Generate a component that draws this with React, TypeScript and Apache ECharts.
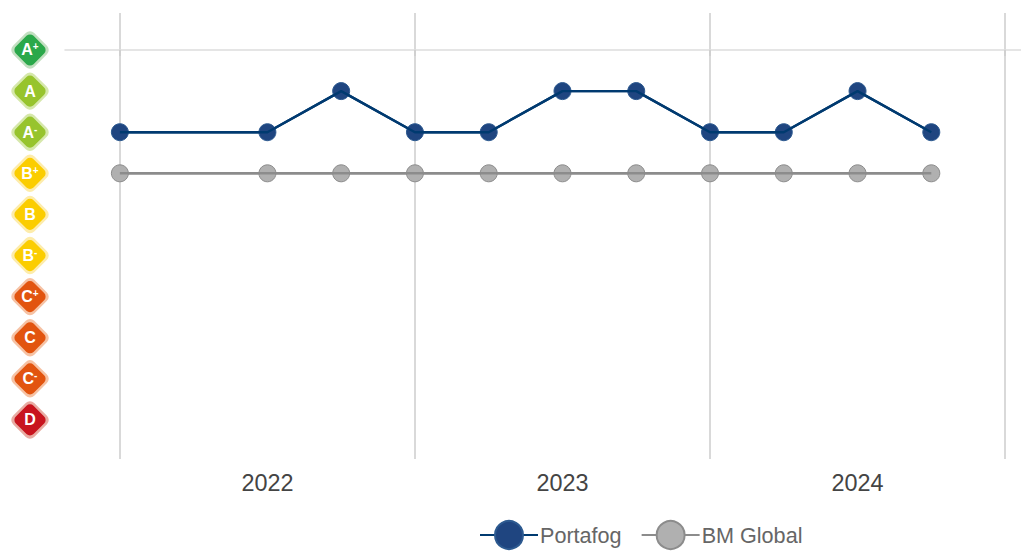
import React, { useEffect, useRef } from "react";
import * as echarts from "echarts";

const ratings = ["A+", "A", "A-", "B+", "B", "B-", "C+", "C", "C-", "D"];
const badgeFill = ["#2aa84a", "#97c42d", "#97c42d", "#fbcd00", "#fbcd00", "#fbcd00", "#e2540f", "#e2540f", "#e2540f", "#c8141e"];
const badgeHalo = ["#c2dfc0", "#d6e8ab", "#d6e8ab", "#fdecab", "#fdecab", "#fdecab", "#f6c2a4", "#f6c2a4", "#f6c2a4", "#e9aca3"];
const periods = [2022, 2022.5, 2022.75, 2023, 2023.25, 2023.5, 2023.75, 2024, 2024.25, 2024.5, 2024.75];
const portafog = ["A-", "A-", "A", "A-", "A-", "A", "A", "A-", "A-", "A", "A-"];
const bmGlobal = ["B+", "B+", "B+", "B+", "B+", "B+", "B+", "B+", "B+", "B+", "B+"];
const yearTicks = [2022, 2023, 2024, 2025];
const yearLabels = [2022.5, 2023.5, 2024.5];

const FONT = '"Liberation Sans", Arial, sans-serif';
const toPoints = (vals: string[]) => vals.map((v, i) => [periods[i], ratings.indexOf(v)]);

function lineSeries(name: string, data: number[][], line: string, fill: string, border: string) {
  return [
    {
      name,
      type: "line",
      data,
      symbol: "circle",
      symbolSize: 17,
      z: 3,
      lineStyle: { color: line, width: 2.4 },
      itemStyle: { color: fill, borderColor: border, borderWidth: 1 },
    },
    {
      type: "line",
      data,
      symbol: "none",
      silent: true,
      z: 4,
      lineStyle: { color: line, width: 2.4 },
    },
  ];
}

export default function App() {
  const ref = useRef<HTMLDivElement>(null);
  useEffect(() => {
    document.body.style.margin = "0";
    const chart = echarts.init(ref.current!, undefined, { renderer: "svg" });
    chart.setOption({
      animation: false,
      grid: { left: 65, right: 0, top: 13, bottom: 92 },
      legend: {
        left: 479,
        top: 520,
        itemWidth: 58,
        itemHeight: 35,
        itemGap: 19,
        padding: 0,
        selectedMode: false,
        data: ["Portafog", "BM Global"],
        textStyle: { fontFamily: FONT, fontSize: 21.6, color: "#666666", padding: [0, 0, 0, -3] },
      },
      xAxis: {
        type: "value",
        min: 2021.814,
        max: 2025.054,
        axisLine: { show: true, lineStyle: { color: "#dddddd", width: 1.5 } },
        axisTick: { show: true, length: 6, customValues: yearTicks, lineStyle: { color: "#cccccc", width: 1.5 } },
        splitLine: { show: true, lineStyle: { color: "#cccccc", width: 1.5 } },
        axisLabel: {
          customValues: yearLabels,
          formatter: (v: number) => String(Math.floor(v)),
          fontFamily: FONT,
          fontSize: 23.4,
          color: "#444444",
          margin: 12,
        },
      },
      yAxis: { type: "value", inverse: true, min: -0.9, max: 9.95, show: false },
      series: [
        ...lineSeries("Portafog", toPoints(portafog), "#003a70", "#1f4580", "#2d5a90"),
        ...lineSeries("BM Global", toPoints(bmGlobal), "#8c8c8c", "#b0b0b0", "#8c8c8c"),
        {
          type: "custom",
          silent: true,
          clip: false,
          z: 5,
          data: ratings.map((_, i) => [2021.814, i]),
          renderItem: (params: any, api: any) => {
            const i = params.dataIndex;
            const p = api.coord([api.value(0), api.value(1)]);
            const cx = p[0] - 35;
            const cy = p[1];
            const r = ratings[i];
            const letter = r[0];
            const sign = r.slice(1) === "-" ? "-" : r.slice(1);
            const rect = (side: number, radius: number, fill: string) => ({
              type: "rect",
              x: cx,
              y: cy,
              rotation: Math.PI / 4,
              shape: { x: -side / 2, y: -side / 2, width: side, height: side, r: radius },
              style: { fill },
            });
            return {
              type: "group",
              children: [
                rect(30, 6, badgeHalo[i]),
                rect(25, 5, badgeFill[i]),
                {
                  type: "text",
                  x: cx,
                  y: cy,
                  style: {
                    text: sign ? `{a|${letter}}{s|${sign}}` : `{a|${letter}}`,
                    align: "center",
                    verticalAlign: "middle",
                    fill: "#ffffff",
                    rich: {
                      a: { fontFamily: FONT, fontSize: 16, fontWeight: "bold", fill: "#ffffff", lineHeight: 16 },
                      s: { fontFamily: FONT, fontSize: 10, fontWeight: "bold", fill: "#ffffff", verticalAlign: "top", lineHeight: 9 },
                    },
                  },
                },
              ],
            };
          },
        },
      ],
    });
    return () => chart.dispose();
  }, []);
  return <div ref={ref} style={{ position: "absolute", left: 0, top: 0, width: 1021, height: 551 }} />;
}
